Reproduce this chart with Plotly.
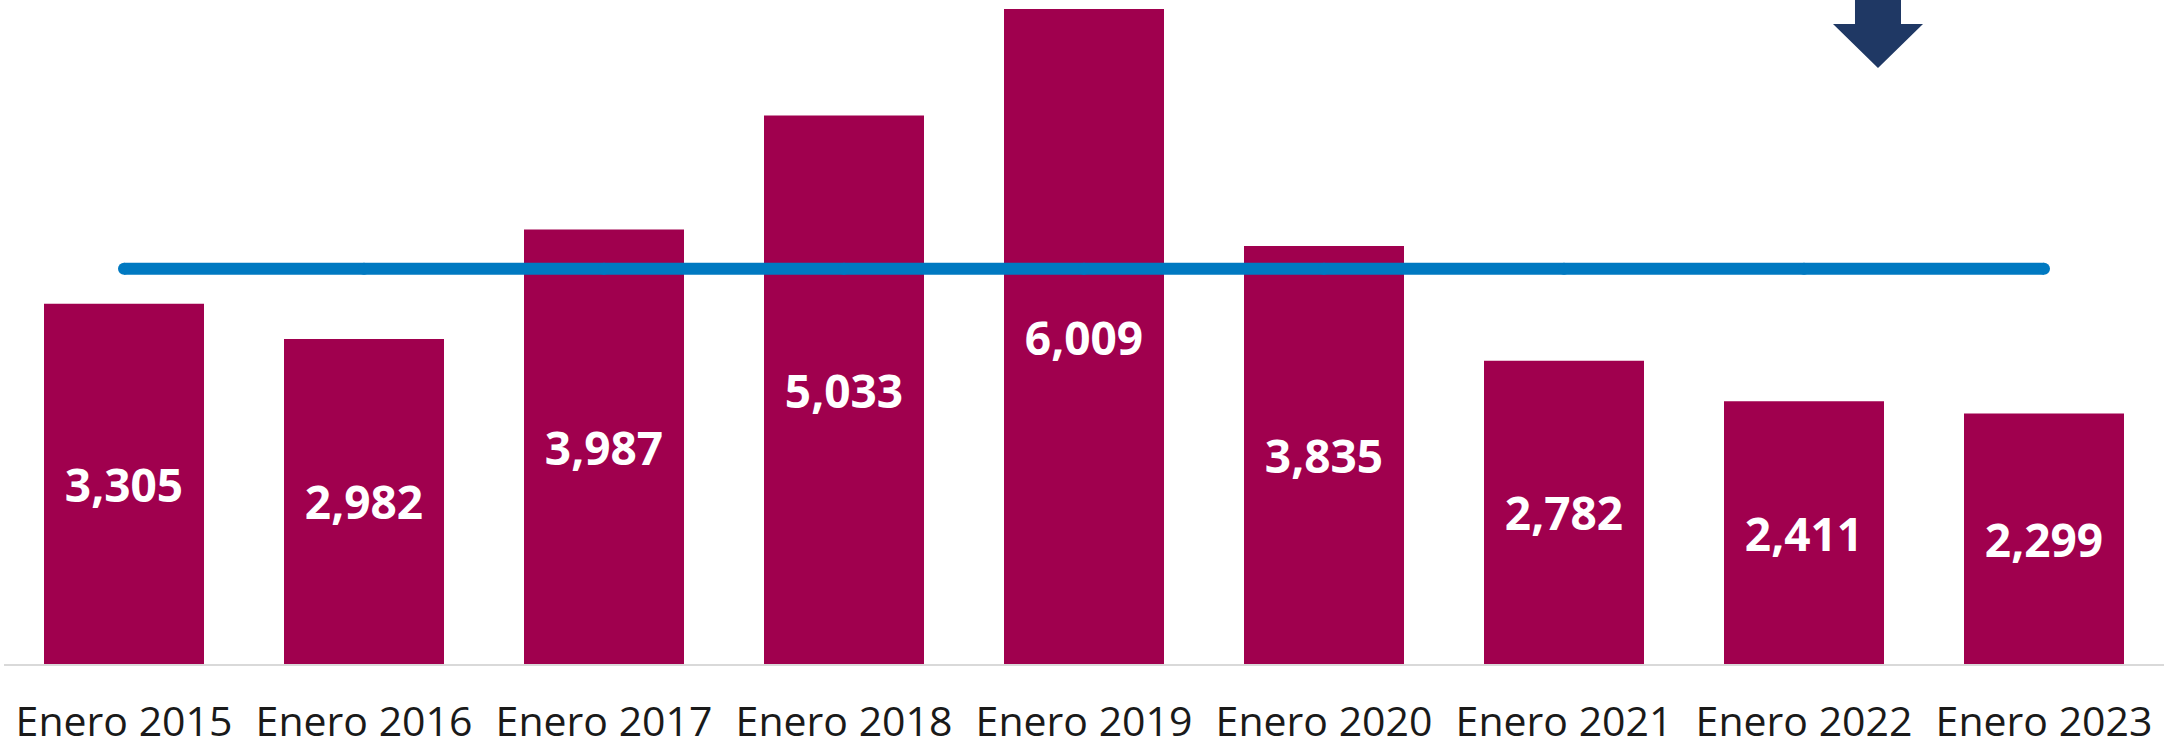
import plotly.graph_objects as go

# ---- data ----
categories = ["Enero 2015", "Enero 2016", "Enero 2017", "Enero 2018", "Enero 2019",
              "Enero 2020", "Enero 2021", "Enero 2022", "Enero 2023"]
values = [3305, 2982, 3987, 5033, 6009, 3835, 2782, 2411, 2299]
average_value = sum(values) / len(values)

# ---- styling / layout constants ----
W, H = 2175, 747
ML, MR, MT, MB = 4, 11, 0, 83
BAR_COLOR = "#A0004E"
LINE_COLOR = "#0079C1"
ARROW_COLOR = "#1F3864"
FONT = "Open Sans"

plot_w = W - ML - MR
plot_h = H - MT - MB


def px_to_paper(px, py):
    return (px - ML) / plot_w, (H - MB - py) / plot_h


fig = go.Figure()
fig.add_trace(go.Bar(
    x=categories,
    y=values,
    marker=dict(color=BAR_COLOR, line=dict(width=0)),
    texttemplate="%{y:,}",
    textposition="inside",
    insidetextanchor="middle",
    textangle=0,
    textfont=dict(family=FONT, size=46, color="white", weight="bold"),
    hoverinfo="skip",
))
fig.add_trace(go.Scatter(
    x=categories,
    y=[average_value] * len(categories),
    mode="lines+markers",
    line=dict(color=LINE_COLOR, width=12),
    marker=dict(color=LINE_COLOR, size=12),
    hoverinfo="skip",
))

# decorative down arrow (pixel geometry -> paper coordinates)
arrow_px = [(1855, -2), (1901, -2), (1901, 24), (1923, 24), (1878, 68), (1833, 24), (1855, 24)]
pts = [px_to_paper(x, y) for x, y in arrow_px]
path = "M " + " L ".join(f"{x:.5f},{y:.5f}" for x, y in pts) + " Z"
fig.add_shape(type="path", path=path, xref="paper", yref="paper",
              fillcolor=ARROW_COLOR, line=dict(width=0), layer="above")

fig.update_layout(
    width=W, height=H,
    margin=dict(l=ML, r=MR, t=MT, b=MB, pad=0, autoexpand=False),
    paper_bgcolor="white", plot_bgcolor="white",
    showlegend=False,
    bargap=1/3,
    uniformtext=dict(mode=False),
    font=dict(family=FONT),
)
fig.update_xaxes(
    type="category",
    range=[-0.5, len(categories) - 0.5],
    automargin=False,
    showline=True, linecolor="#D9D9D9", linewidth=2,
    showgrid=False, zeroline=False,
    ticks="outside", ticklen=21, tickcolor="rgba(0,0,0,0)",
    tickfont=dict(family=FONT, size=41, color="#1a1a1a"),
)
fig.update_yaxes(
    range=[0, plot_h / 0.109],
    automargin=False,
    visible=False, showgrid=False, zeroline=False,
)

fig.write_html("out.html", config={"displayModeBar": False},
               post_script="document.body.style.margin='0';")
